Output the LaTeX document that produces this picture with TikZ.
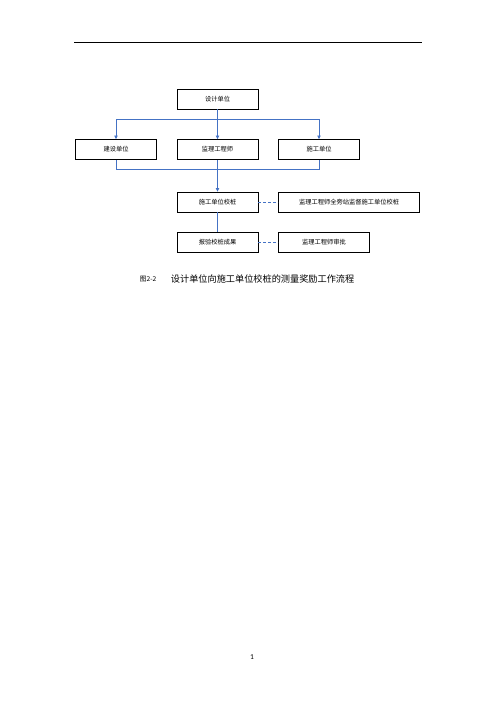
\documentclass[tikz,border=0pt]{standalone}
\usepackage{fontspec}
\setmainfont{Noto Sans CJK SC}
\newfontfamily\numfont{Carlito}
\usepackage{tikz}
\usetikzlibrary{arrows.meta, positioning}
\definecolor{linkblue}{RGB}{68,114,196}

\begin{document}
\begin{tikzpicture}[x=1.2pt,y=-1.2pt,node distance=24pt,>={Triangle[length=4.5pt,width=4pt]},
        box/.style={draw=black, line width=0.6pt, minimum width=97.2pt, minimum height=24pt,
          inner sep=1pt, font=\fontsize{7.5}{9}\selectfont},
        link/.style={draw=linkblue, line width=0.9pt},
        side/.style={link, dash pattern=on 3.5pt off 2.5pt}]
      \useasboundingbox (0,0) rectangle (496,702);
      \draw[line width=0.8pt] (74,42) -- (422,42);

      \node[box] (sheji) at (217.5,99) {设计单位};
      \node[box] (jianli) [below=36pt of sheji] {监理工程师};
      \node[box] (jianshe) [left=of jianli] {建设单位};
      \node[box] (shigong) [right=of jianli] {施工单位};
      \node[box] (jiaozhuang) [below=38.4pt of jianli] {施工单位校桩};
      \node[box, minimum width=169.2pt] (pangzhan) [right=of jiaozhuang] {监理工程师全旁站监督施工单位校桩};
      \node[box] (baoyan) [below=of jiaozhuang] {报验校桩成果};
      \node[box, minimum width=109.2pt] (shenpi) [right=of baoyan] {监理工程师审批};

      % fan out and back in
      \path (sheji.south) ++(0,-12pt) coordinate (fen);
      \path (jianli.south) ++(0,-12pt) coordinate (he);
      \draw[link,->] (sheji.south) -- (jianli.north);
      \draw[link,->] (fen) -| (jianshe.north);
      \draw[link,->] (fen) -| (shigong.north);
      \draw[link] (jianshe.south) |- (he) -| (shigong.south);
      \draw[link,->] (jianli.south) -- (jiaozhuang.north);
      \draw[link] (jiaozhuang.south) -- (baoyan.north);
      \draw[side] (jiaozhuang.east) -- (pangzhan.west);
      \draw[side] (baoyan.east) -- (shenpi.west);

      \node[anchor=west, font=\fontsize{8}{10}\selectfont] (tuhao) at (137,279) {图2-2};
      \node[anchor=west, font=\fontsize{11}{13}\selectfont] (timing) at (168,279) {设计单位向施工单位校桩的测量奖励工作流程};
      \node[font=\numfont\fontsize{9}{10}\selectfont] (yema) at (252,657) {1};
    \end{tikzpicture}
\end{document}
